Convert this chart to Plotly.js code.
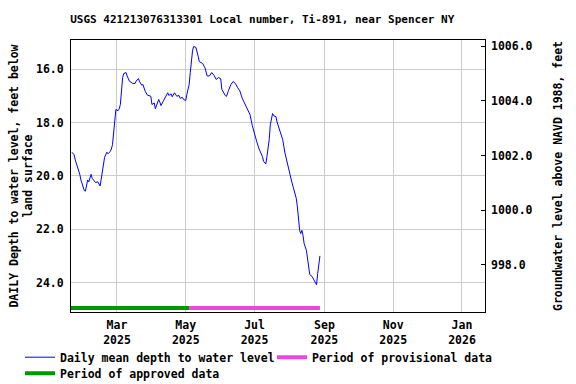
<!DOCTYPE html>
<html>
<head>
<meta charset="utf-8">
<script src="https://cdn.plot.ly/plotly-3.0.1.min.js"></script>
<style>html,body{margin:0;padding:0;background:#fff;}#chart{width:576px;height:384px;}</style>
</head>
<body>
<div id="chart"></div>
<script>
// Daily mean depth to water level (feet below land surface)
const dates = [
 '2025-01-20','2025-01-22','2025-01-23','2025-01-25','2025-01-26','2025-01-27','2025-01-28','2025-01-30','2025-01-31',
 '2025-02-01','2025-02-02','2025-02-03','2025-02-04','2025-02-05','2025-02-06','2025-02-07','2025-02-09','2025-02-10',
 '2025-02-12','2025-02-13','2025-02-14','2025-02-15','2025-02-16','2025-02-17','2025-02-18','2025-02-20','2025-02-21',
 '2025-02-23','2025-02-24','2025-02-25','2025-02-26','2025-02-27','2025-02-28',
 '2025-03-02','2025-03-03','2025-03-04','2025-03-05','2025-03-06','2025-03-07','2025-03-09','2025-03-10','2025-03-12',
 '2025-03-15','2025-03-17','2025-03-18','2025-03-20','2025-03-21','2025-03-23','2025-03-24','2025-03-26','2025-03-28',
 '2025-03-29','2025-03-31',
 '2025-04-01','2025-04-03','2025-04-04','2025-04-06','2025-04-07','2025-04-08','2025-04-09','2025-04-11','2025-04-13',
 '2025-04-15','2025-04-16','2025-04-18','2025-04-19','2025-04-21','2025-04-23','2025-04-25','2025-04-26','2025-04-28',
 '2025-04-29',
 '2025-05-01','2025-05-02','2025-05-04','2025-05-05','2025-05-06','2025-05-07','2025-05-08','2025-05-10','2025-05-12',
 '2025-05-13','2025-05-16','2025-05-18','2025-05-20','2025-05-22','2025-05-24','2025-05-26','2025-05-28','2025-05-30',
 '2025-06-01','2025-06-02','2025-06-05','2025-06-06','2025-06-08','2025-06-10','2025-06-12','2025-06-14','2025-06-16',
 '2025-06-18','2025-06-20','2025-06-22','2025-06-24','2025-06-27','2025-06-29',
 '2025-07-01','2025-07-03','2025-07-05','2025-07-06','2025-07-08','2025-07-09','2025-07-11','2025-07-12','2025-07-14',
 '2025-07-15','2025-07-17','2025-07-18','2025-07-20','2025-07-21','2025-07-23','2025-07-26','2025-07-28','2025-07-30',
 '2025-08-01','2025-08-03','2025-08-05','2025-08-07','2025-08-08','2025-08-09','2025-08-10','2025-08-11','2025-08-12',
 '2025-08-13','2025-08-14','2025-08-16','2025-08-17','2025-08-18','2025-08-19','2025-08-21','2025-08-23','2025-08-24',
 '2025-08-25','2025-08-26','2025-08-27','2025-08-28'
];
const depth = [
 19.11,19.21,19.40,19.65,19.86,19.94,20.15,20.46,20.55,
 20.57,20.28,20.15,20.22,20.05,19.94,20.09,20.22,20.25,
 20.22,20.28,20.38,20.12,19.85,19.55,19.30,19.11,19.17,
 19.08,18.99,18.83,18.45,17.82,17.51,
 17.55,17.48,17.32,16.75,16.31,16.16,16.12,16.25,16.44,
 16.53,16.53,16.44,16.35,16.46,16.60,16.57,16.82,16.97,
 16.98,17.01,
 17.32,17.26,17.48,17.26,17.13,17.23,17.36,17.20,17.01,
 16.88,16.98,16.92,17.03,16.88,17.01,16.98,17.09,17.05,
 17.13,
 17.17,16.94,16.57,16.12,15.62,15.31,15.14,15.18,15.51,
 15.71,15.78,15.94,16.25,16.25,16.12,16.22,16.38,16.31,
 16.35,16.75,16.98,17.02,16.79,16.57,16.46,16.53,16.69,
 16.81,17.08,17.26,17.43,17.70,18.11,
 18.45,18.72,18.99,19.08,19.27,19.45,19.55,19.27,18.64,
 18.08,17.66,17.74,17.78,17.98,18.23,18.64,19.14,19.52,
 19.96,20.22,20.53,20.84,21.16,21.66,22.04,22.16,22.04,
 22.23,22.54,22.79,23.17,23.48,23.70,23.77,23.90,23.99,
 24.08,23.67,23.20,23.00
];
// Data-status periods
const approvedPeriod = ['2025-01-19','2025-05-04'];
const provisionalPeriod = ['2025-05-04','2025-08-28'];
const periodBarDepth = 24.955;

const xRange = ['2025-01-19 05:00','2026-01-21 10:00'];
const yRange = [25.105, 14.9];
const y2Range = [996.28, 1006.23];

const TITLEFONT = {family: 'DejaVu Sans Mono, monospace', size: 11, color: '#000', weight: 'bold'};
const FONT = {family: 'DejaVu Sans Mono, monospace', size: 11.5, color: '#000', weight: 'bold'};

const traces = [
 {x: dates, y: depth, type: 'scatter', mode: 'lines', name: 'Daily mean depth to water level',
  line: {color: '#0000ff', width: 1}, hoverinfo: 'skip', legend: 'legend'},
 {x: provisionalPeriod, y: [periodBarDepth, periodBarDepth], type: 'scatter', mode: 'lines',
  name: 'Period of provisional data', line: {color: '#ea48dd', width: 4}, cliponaxis: false, legend: 'legend2'},
 {x: approvedPeriod, y: [periodBarDepth, periodBarDepth], type: 'scatter', mode: 'lines',
  name: 'Period of approved data', line: {color: '#009900', width: 4}, cliponaxis: false, legend: 'legend3'},
 // anchors the right-hand elevation axis
 {x: [dates[0]], y: [null], type: 'scatter', mode: 'lines', yaxis: 'y2', showlegend: false, hoverinfo: 'skip'}
];

const legendBase = {orientation: 'h', xref: 'container', yref: 'container', xanchor: 'left', yanchor: 'top',
  font: FONT, itemwidth: 30, bgcolor: 'rgba(0,0,0,0)', borderwidth: 0};

const layout = {
 width: 576, height: 384,
 paper_bgcolor: '#fff', plot_bgcolor: '#fff',
 font: FONT,
 margin: {l: 71, r: 91, t: 40, b: 72},
 title: {text: 'USGS 421213076313301 Local number, Ti-891, near Spencer NY',
   font: TITLEFONT, x: 0.462, xref: 'paper', xanchor: 'center', y: 0.951, yref: 'container', yanchor: 'middle'},
 xaxis: {type: 'date', range: xRange, tickformat: '%b<br>%Y', dtick: 'M2', tick0: '2025-03-01',
   showgrid: true, gridcolor: '#cccccc', gridwidth: 1, showline: true, linecolor: '#000', linewidth: 1,
   mirror: true, ticks: '', zeroline: false, tickfont: FONT, ticklabelstandoff: 2},
 yaxis: {range: yRange, dtick: 2, tick0: 16, tickformat: '.1f', showgrid: true, gridcolor: '#cccccc',
   showline: true, linecolor: '#000', linewidth: 1, mirror: true, ticks: '', zeroline: false,
   tickfont: FONT, ticklabelstandoff: 4,
   title: {text: 'DAILY Depth to water level, feet below<br>land surface', font: FONT, standoff: 0}},
 yaxis2: {overlaying: 'y', side: 'right', range: y2Range, dtick: 2, tick0: 998, tickformat: '.1f',
   showgrid: false, zeroline: false, showline: false, ticks: 'inside', ticklen: 4, tickcolor: '#000',
   tickfont: FONT, ticklabelstandoff: 5,
   title: {text: 'Groundwater level above NAVD 1988, feet', font: FONT, standoff: 22}},
 showlegend: true,
 legend: Object.assign({}, legendBase, {x: 20/576, y: 1 - 342.7/384}),
 legend2: Object.assign({}, legendBase, {x: 272/576, y: 1 - 342.7/384}),
 legend3: Object.assign({}, legendBase, {x: 20/576, y: 1 - 358.7/384})
};

Plotly.newPlot('chart', traces, layout, {staticPlot: true, displayModeBar: false});
</script>
</body>
</html>
